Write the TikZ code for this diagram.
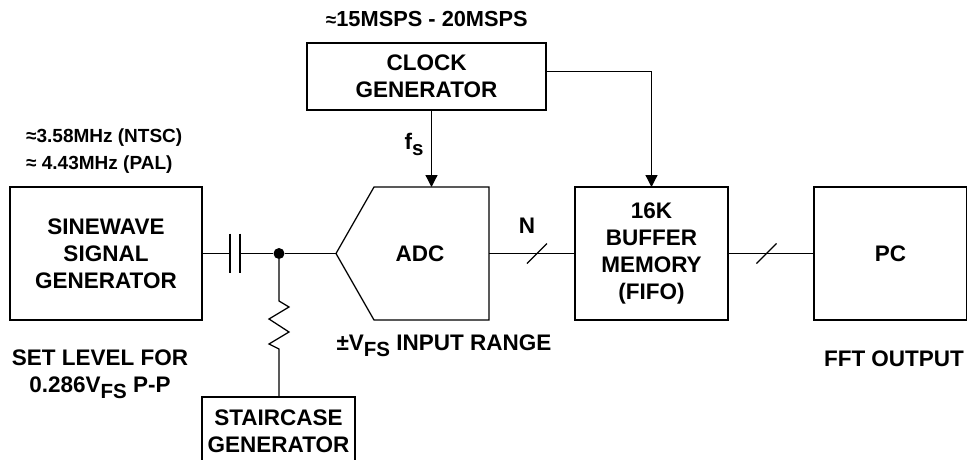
\documentclass[tikz,border=0pt]{standalone}
\usepackage{fontspec}
\setmainfont{Liberation Sans}[BoldFont={* Bold}]
\usetikzlibrary{arrows.meta,positioning}
\newcommand{\lowtext}[1]{\raisebox{-6pt}{\fontsize{20.5}{20.5}\selectfont #1}}
\newcommand{\smallapprox}{{\fontsize{19}{19}\selectfont ≈}}
\tikzset{
  >={Triangle[length=12pt,width=12pt]},
  wire/.style={draw=black,line width=1.25pt},
  block/.style={draw=black,line width=1.25pt,outer sep=0pt,inner sep=0pt,align=center,
    font=\fontsize{22.5}{27}\selectfont\bfseries},
  tag/.style={inner sep=0pt,align=center,font=\fontsize{22.5}{27}\selectfont\bfseries},
  small tag/.style={inner sep=0pt,align=left,font=\fontsize{19}{27}\selectfont\bfseries},
}
\begin{document}
\begin{tikzpicture}[x=1pt,y=-1pt]
  \useasboundingbox (0,0) rectangle (967,459);
  % blocks
  \node[block,minimum width=192pt,minimum height=133pt] (sine) at (106,253.5) {SINEWAVE\\SIGNAL\\GENERATOR};
  \node[block,minimum width=239pt,minimum height=67pt] (clk) at (426.5,76.5) {CLOCK\\GENERATOR};
  \node[block,minimum width=153pt,minimum height=133pt] (buf) at (651.5,253.5) {16K\\BUFFER\\MEMORY\\(FIFO)};
  \node[block,minimum width=153pt,minimum height=133pt] (pc) at (890.5,253.5) {PC};
  \node[block,minimum width=153pt,minimum height=69pt] (stair) at (278.5,431.5) {STAIRCASE\\GENERATOR};
  % adc outline
  \coordinate (adcin) at (336,253.5);
  \coordinate (adctl) at (374,187);
  \coordinate (adctop) at (431.5,187);
  \coordinate (adctr) at (489,187);
  \coordinate (adcout) at (489,253.5);
  \coordinate (adcbr) at (489,320);
  \coordinate (adcbl) at (374,320);
  \draw[wire,line join=miter] (adcin) -- (adctl) -- (adctr) -- (adcbr) -- (adcbl) -- cycle;
  \node[tag] (adc) at (420,253.5) {ADC};
  % input network
  \coordinate (capa) at (230,253.5);
  \coordinate (capb) at (240,253.5);
  \coordinate (resa) at (279,301);
  \coordinate (resb) at (279,349);
  \node[circle,fill=black,minimum size=11pt,inner sep=0pt] (dot) at (279,253.5) {};
  \draw[wire] (sine) -- (capa);
  \draw[wire] (capa) ++(0,-20) -- ++(0,39);
  \draw[wire] (capb) ++(0,-20) -- ++(0,39);
  \draw[wire] (capb) -- (dot) -- (adcin);
  \draw[wire] (dot) -- (resa) -- ++(10,6) -- ++(-20,12) -- ++(20,13) -- ++(-20,12) -- (resb) -- (stair.north -| resb);
  % clock and data
  \coordinate (clkout) at (546,71.5);
  \draw[wire,->] (clk.south -| adctop) -- (adctop);
  \draw[wire,->] (clkout) -| (buf.north);
  \draw[wire] (adcout) -- (buf.west);
  \draw[wire] (buf) -- (pc);
  \coordinate (busa) at (537,253.5);
  \coordinate (busb) at (766.5,253.5);
  \draw[wire] (busa) ++(-10,10) -- ++(20,-20);
  \draw[wire] (busb) ++(-10,10) -- ++(20,-20);
  % labels
  \node[tag,font=\fontsize{21.8}{27}\selectfont\bfseries,anchor=east] (rate) at (528,19) {\smallapprox15MSPS - 20MSPS};
  \node[small tag,anchor=west] (ntsc) at (26,137.5) {\smallapprox3.58MHz (NTSC)};
  \node[small tag,anchor=west] (pal) at (26,164.5) {\smallapprox\ 4.43MHz (PAL)};
  \node[tag] (fs) at (414,144) {f\lowtext{s}};
  \node[tag] (bits) at (527,226) {N};
  \node[tag] (range) at (444,345.5) {±V\lowtext{FS} INPUT RANGE};
  \node[tag] (level) at (100,374.5) {SET LEVEL FOR\\0.286V\lowtext{FS} P-P};
  \node[tag] (fft) at (894,359) {FFT OUTPUT};
\end{tikzpicture}
\end{document}
